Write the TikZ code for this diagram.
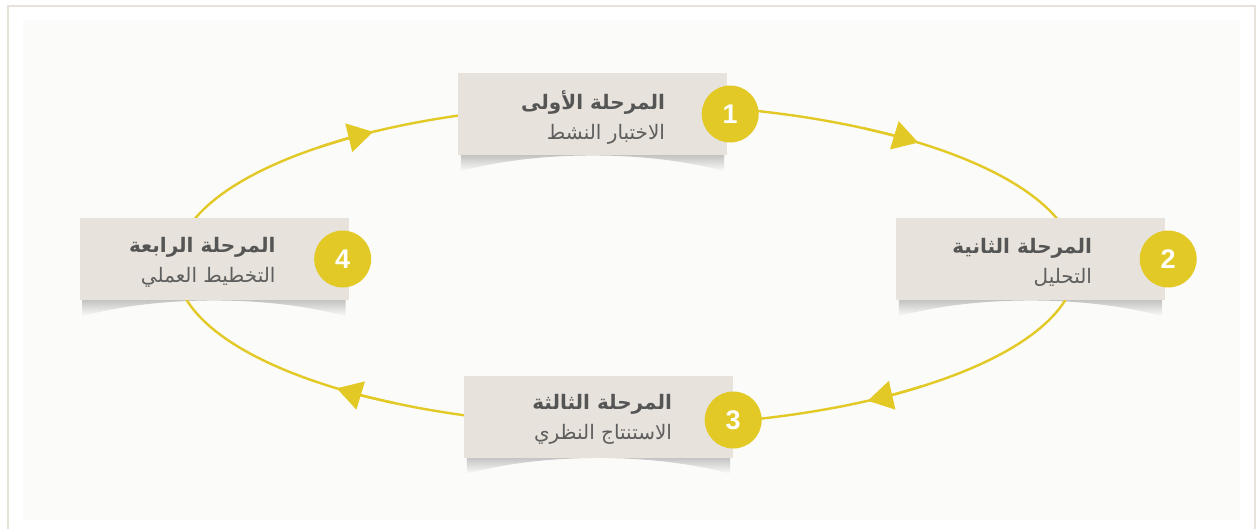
\documentclass[tikz,border=0pt]{standalone}
\usepackage{fontspec}
\usetikzlibrary{positioning,arrows.meta,backgrounds}
\setmainfont{Liberation Sans}
\newfontfamily\arabicfont[Script=Arabic]{DejaVu Sans}
\TeXXeTstate=1
\definecolor{cyclegold}{HTML}{E2C925}
\definecolor{stagebg}{HTML}{E7E3DC}
\definecolor{panelbg}{HTML}{FBFBF9}
\definecolor{framecol}{HTML}{E6E2DA}
\definecolor{titlegray}{HTML}{555555}
\definecolor{subgray}{HTML}{5E5E5E}
\begin{document}
\begin{tikzpicture}[x=1pt, y=1pt,
    stage/.style={fill=stagebg, minimum width=269pt, minimum height=82pt, inner sep=0pt},
    stagetext/.style={align=right, inner sep=0pt, yshift=-3pt, text=subgray, font=\arabicfont\fontsize{20}{30}\selectfont},
    num/.style={circle, fill=cyclegold, minimum size=57pt, inner sep=0pt, text=white, font=\bfseries\fontsize{27}{27}\selectfont},
    ring/.style={draw=cyclegold, line width=2.4pt},
    ringarrow/.style={ring, -{Triangle[length=25pt, width=29pt]}}]
\useasboundingbox (0,0) rectangle (1256,-528);
% the cycle
\coordinate (c) at (626,-265);
\draw[ring] (c) ellipse [x radius=450pt, y radius=161pt];
\foreach \a/\b in {58/49.5, -49/-57.5, -121/-130, 133/124.2}
  \draw[ringarrow] (c) ++(\a:450pt and 161pt) arc [start angle=\a, end angle=\b, x radius=450pt, y radius=161pt];
% stages
\node (b1) [stage] at (592.5,-114) {};
\node (b2) [stage] at (1030.5,-259) {};
\node (b3) [stage] at (598.5,-416.5) {};
\node (b4) [stage] at (214,-259) {};
\node (t1) [stagetext, left=62pt of b1.east] {{\bfseries\color{titlegray}\beginR المرحلة الأولى\endR}\\\beginR الاختبار النشط\endR};
\node (t2) [stagetext, left=73pt of b2.east] {{\bfseries\color{titlegray}\beginR المرحلة الثانية\endR}\\\beginR التحليل\endR};
\node (t3) [stagetext, left=61pt of b3.east] {{\bfseries\color{titlegray}\beginR المرحلة الثالثة\endR}\\\beginR الاستنتاج النظري\endR};
\node (t4) [stagetext, left=73pt of b4.east] {{\bfseries\color{titlegray}\beginR المرحلة الرابعة\endR}\\\beginR التخطيط العملي\endR};
\node (n1) [num] at ([xshift=3pt]b1.east) {1};
\node (n2) [num] at ([xshift=3pt]b2.east) {2};
\node (n3) [num] at ([yshift=-3.5pt]b3.east) {3};
\node (n4) [num] at ([xshift=-6pt]b4.east) {4};
% frame, panel and shadows
\begin{scope}[on background layer]
  \fill[white] (0,0) rectangle (1256,-528);
  \draw[framecol, line width=2.5pt] (8,-530) -- (8,-6) -- (1255,-6) -- (1255,-530);
  \fill[panelbg] (23,-20) rectangle (1240,-520);
  \foreach \s in {b1,b2,b3,b4}
    \shade[top color=black!30, bottom color=panelbg] ([xshift=3pt]\s.south west) -- ([xshift=3pt,yshift=-16pt]\s.south west)
      .. controls ([xshift=80pt,yshift=5pt]\s.south west) and ([xshift=-80pt,yshift=5pt]\s.south east) .. ([xshift=-3pt,yshift=-16pt]\s.south east)
      -- ([xshift=-3pt]\s.south east) -- cycle;
\end{scope}
\end{tikzpicture}
\end{document}
